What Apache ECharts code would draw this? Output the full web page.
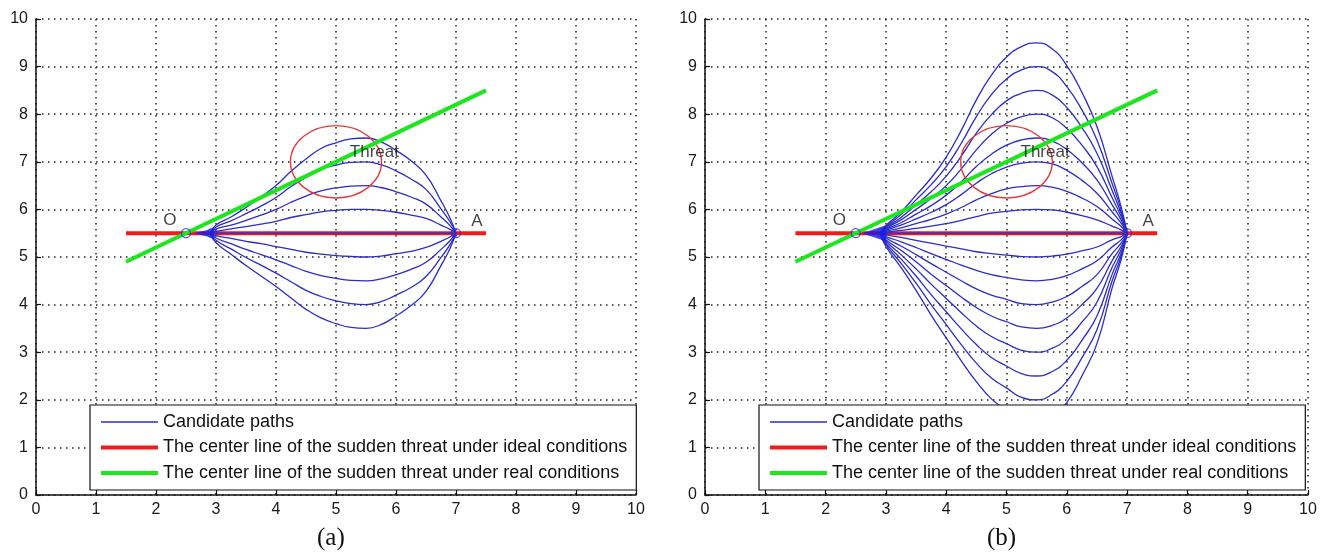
<!DOCTYPE html>
<html>
<head>
<meta charset="utf-8">
<title>Candidate paths</title>
<script src="https://cdn.jsdelivr.net/npm/echarts@6/dist/echarts.min.js"></script>
<style>
html, body { margin: 0; padding: 0; background: #fff; }
#main { width: 1327px; height: 557px; }
</style>
</head>
<body>
<div id="main"></div>
<script>
// tick labels for both axes of both panels
var tickLabels = ['0', '1', '2', '3', '4', '5', '6', '7', '8', '9', '10'];

// x positions shared by every candidate path
var pathX = [2.9, 3.0, 3.25, 3.5, 3.75, 4.0, 4.25, 4.5, 4.75, 5.0, 5.25, 5.5, 5.75, 6.0, 6.25, 6.5, 6.75, 6.9, 7.0];

// panel (a): 9 candidate paths, y read at pathX
var pathsA = [
    [5.5, 5.67, 5.84, 6.04, 6.26, 6.50, 6.80, 7.06, 7.28, 7.40, 7.48, 7.50, 7.42, 7.24, 7.02, 6.72, 6.18, 5.82, 5.5],
    [5.5, 5.63, 5.76, 5.91, 6.07, 6.25, 6.48, 6.67, 6.84, 6.93, 6.99, 7.00, 6.94, 6.81, 6.64, 6.42, 6.01, 5.74, 5.5],
    [5.5, 5.59, 5.67, 5.77, 5.88, 6.00, 6.15, 6.28, 6.39, 6.45, 6.49, 6.50, 6.46, 6.37, 6.26, 6.11, 5.84, 5.66, 5.5],
    [5.5, 5.54, 5.59, 5.64, 5.69, 5.75, 5.83, 5.89, 5.95, 5.98, 6.00, 6.00, 5.98, 5.94, 5.88, 5.81, 5.67, 5.58, 5.5],
    [5.5, 5.50, 5.50, 5.50, 5.50, 5.50, 5.50, 5.50, 5.50, 5.50, 5.50, 5.50, 5.50, 5.50, 5.50, 5.50, 5.50, 5.50, 5.5],
    [5.5, 5.45, 5.39, 5.33, 5.28, 5.22, 5.16, 5.10, 5.06, 5.03, 5.01, 5.00, 5.02, 5.07, 5.12, 5.20, 5.33, 5.42, 5.5],
    [5.5, 5.40, 5.28, 5.16, 5.05, 4.94, 4.82, 4.70, 4.61, 4.55, 4.51, 4.50, 4.54, 4.63, 4.74, 4.89, 5.16, 5.34, 5.5],
    [5.5, 5.35, 5.17, 4.99, 4.83, 4.66, 4.48, 4.30, 4.17, 4.08, 4.02, 4.00, 4.06, 4.20, 4.36, 4.59, 4.99, 5.26, 5.5],
    [5.5, 5.30, 5.06, 4.82, 4.60, 4.38, 4.14, 3.90, 3.72, 3.60, 3.52, 3.50, 3.58, 3.76, 3.98, 4.28, 4.82, 5.18, 5.5]
];

// panel (b): 17 candidate paths
var pathsB = [
    [5.5, 5.66, 5.94, 6.30, 6.66, 7.10, 7.66, 8.30, 8.82, 9.20, 9.42, 9.50, 9.38, 9.02, 8.46, 7.74, 6.70, 6.06, 5.5],
    [5.5, 5.64, 5.89, 6.20, 6.52, 6.90, 7.39, 7.95, 8.41, 8.74, 8.93, 9.00, 8.90, 8.58, 8.09, 7.46, 6.55, 5.99, 5.5],
    [5.5, 5.62, 5.83, 6.10, 6.37, 6.70, 7.12, 7.60, 7.99, 8.28, 8.44, 8.50, 8.41, 8.14, 7.72, 7.18, 6.40, 5.92, 5.5],
    [5.5, 5.60, 5.78, 6.00, 6.23, 6.50, 6.85, 7.25, 7.58, 7.81, 7.95, 8.00, 7.93, 7.70, 7.35, 6.90, 6.25, 5.85, 5.5],
    [5.5, 5.58, 5.72, 5.90, 6.08, 6.30, 6.58, 6.90, 7.16, 7.35, 7.46, 7.50, 7.44, 7.26, 6.98, 6.62, 6.10, 5.78, 5.5],
    [5.5, 5.56, 5.67, 5.80, 5.94, 6.10, 6.31, 6.55, 6.75, 6.89, 6.97, 7.00, 6.96, 6.82, 6.61, 6.34, 5.95, 5.71, 5.5],
    [5.5, 5.54, 5.61, 5.70, 5.79, 5.90, 6.04, 6.20, 6.33, 6.43, 6.48, 6.50, 6.47, 6.38, 6.24, 6.06, 5.80, 5.64, 5.5],
    [5.5, 5.52, 5.56, 5.60, 5.65, 5.70, 5.77, 5.85, 5.92, 5.96, 5.99, 6.00, 5.99, 5.94, 5.87, 5.78, 5.65, 5.57, 5.5],
    [5.5, 5.50, 5.50, 5.50, 5.50, 5.50, 5.50, 5.50, 5.50, 5.50, 5.50, 5.50, 5.50, 5.50, 5.50, 5.50, 5.50, 5.50, 5.5],
    [5.5, 5.47, 5.41, 5.35, 5.29, 5.23, 5.17, 5.11, 5.07, 5.04, 5.01, 5.00, 5.02, 5.06, 5.13, 5.21, 5.36, 5.43, 5.5],
    [5.5, 5.43, 5.32, 5.20, 5.07, 4.95, 4.83, 4.72, 4.63, 4.57, 4.52, 4.50, 4.53, 4.61, 4.75, 4.92, 5.21, 5.36, 5.5],
    [5.5, 5.40, 5.23, 5.05, 4.86, 4.68, 4.50, 4.33, 4.20, 4.11, 4.02, 4.00, 4.05, 4.17, 4.38, 4.63, 5.07, 5.29, 5.5],
    [5.5, 5.36, 5.14, 4.90, 4.64, 4.40, 4.16, 3.94, 3.76, 3.64, 3.53, 3.50, 3.56, 3.72, 4.00, 4.34, 4.92, 5.22, 5.5],
    [5.5, 5.33, 5.05, 4.75, 4.43, 4.13, 3.83, 3.55, 3.33, 3.18, 3.04, 3.00, 3.08, 3.28, 3.63, 4.05, 4.78, 5.15, 5.5],
    [5.5, 5.29, 4.96, 4.60, 4.21, 3.85, 3.49, 3.16, 2.89, 2.71, 2.55, 2.50, 2.59, 2.83, 3.25, 3.76, 4.63, 5.08, 5.5],
    [5.5, 5.26, 4.87, 4.45, 4.00, 3.58, 3.16, 2.77, 2.46, 2.25, 2.05, 2.00, 2.11, 2.39, 2.88, 3.47, 4.49, 5.01, 5.5],
    [5.5, 5.22, 4.78, 4.30, 3.78, 3.30, 2.82, 2.38, 2.02, 1.78, 1.56, 1.50, 1.62, 1.94, 2.50, 3.18, 4.34, 4.94, 5.5]
];

var idealLine = [[1.5, 5.5], [7.5, 5.5]];
var realLine = [[1.5, 4.9], [7.5, 8.5]];
var threatCircle = [[5.0, 7.0, 0.76]];        // centre x, centre y, radius
var openPoints = [[2.5, 5.5], [2.93, 5.5], [7.0, 5.5]];
var startBlob = [[2.8, 5.5]];
var textMarks = [
    { name: 'O', value: [2.23, 5.78] },
    { name: 'A', value: [7.35, 5.74] },
    { name: 'Threat', value: [5.64, 7.2] }
];

var nameCandidate = 'Candidate paths';
var nameIdeal = 'The center line of the sudden threat under ideal conditions';
var nameReal = 'The center line of the sudden threat under real conditions';

var font = 'Liberation Sans, Arial, sans-serif';

function makeXAxis(idx) {
    return {
        gridIndex: idx, type: 'value', min: 0, max: 10, interval: 1,
        axisLine: { onZero: false, lineStyle: { color: '#111', width: 1.5 } },
        axisTick: { inside: true, length: 5, lineStyle: { color: '#111', width: 1.2 } },
        axisLabel: {
            margin: 7, fontSize: 16, color: '#1a1a1a', fontFamily: font,
            formatter: function (v) { return tickLabels[Math.round(v)]; }
        },
        splitLine: { show: true, lineStyle: { type: [1.5, 4.5], color: '#222', width: 1.5 } }
    };
}

function makeYAxis(idx) {
    var ax = makeXAxis(idx);
    ax.axisLabel.margin = 8;
    return ax;
}

function panelSeries(idx, paths, blob) {
    var s = [];
    s.push({
        name: nameIdeal, type: 'line', xAxisIndex: idx, yAxisIndex: idx,
        data: idealLine, symbol: 'none', z: 2,
        lineStyle: { color: '#f01c1c', width: 4 }, itemStyle: { color: '#f01c1c' }
    });
    paths.forEach(function (ys) {
        s.push({
            name: nameCandidate, type: 'line', xAxisIndex: idx, yAxisIndex: idx,
            data: pathX.map(function (x, i) { return [x, ys[i]]; }),
            symbol: 'none', smooth: 0.5, z: 3,
            lineStyle: { color: '#2c2cc8', width: 1.3 }, itemStyle: { color: '#2c2cc8' }
        });
    });
    s.push({
        name: nameReal, type: 'line', xAxisIndex: idx, yAxisIndex: idx,
        data: realLine, symbol: 'none', z: 4,
        lineStyle: { color: '#1ee61e', width: 4 }, itemStyle: { color: '#1ee61e' }
    });
    s.push({
        type: 'custom', xAxisIndex: idx, yAxisIndex: idx, data: threatCircle, z: 4,
        renderItem: function (params, api) {
            var c = api.coord([api.value(0), api.value(1)]);
            var r = api.size([api.value(2), api.value(2)]);
            return {
                type: 'ellipse',
                shape: { cx: c[0], cy: c[1], rx: r[0], ry: r[1] },
                style: { fill: 'none', stroke: '#e23a3a', lineWidth: 1.3 }
            };
        }
    });
    s.push({
        type: 'scatter', xAxisIndex: idx, yAxisIndex: idx, data: startBlob, z: 5,
        symbol: 'triangle', symbolRotate: 90, symbolSize: blob,
        itemStyle: { color: '#1a1ae6' }
    });
    s.push({
        type: 'scatter', xAxisIndex: idx, yAxisIndex: idx, data: openPoints, z: 5,
        symbol: 'circle', symbolSize: 9,
        itemStyle: { color: 'transparent', borderColor: '#2a2ae0', borderWidth: 1.3 }
    });
    s.push({
        type: 'scatter', xAxisIndex: idx, yAxisIndex: idx, data: textMarks, z: 6,
        symbolSize: 1, itemStyle: { color: 'transparent' },
        label: {
            show: true, position: 'inside', formatter: '{b}',
            fontSize: 17, color: '#111', fontFamily: font
        }
    });
    return s;
}

function makeLegend(left) {
    return {
        data: [
            { name: nameCandidate, lineStyle: { width: 1.5 } },
            { name: nameIdeal, lineStyle: { width: 4 } },
            { name: nameReal, lineStyle: { width: 4 } }
        ],
        orient: 'vertical', left: left, top: 405,
        padding: [8, 9, 8, 9], itemGap: 7.5, itemWidth: 57, itemHeight: 10,
        backgroundColor: '#fff', borderColor: '#111', borderWidth: 1.2, borderRadius: 0,
        selectedMode: false,
        itemStyle: { opacity: 0 },
        textStyle: { fontSize: 18, color: '#111', fontFamily: font }
    };
}

var myChart = echarts.init(document.getElementById('main'));
myChart.setOption({
    animation: false,
    backgroundColor: '#fff',
    grid: [
        { left: 36, right: 691, top: 19, bottom: 62 },
        { left: 705, right: 19, top: 19, bottom: 62 }
    ],
    xAxis: [makeXAxis(0), makeXAxis(1)],
    yAxis: [makeYAxis(0), makeYAxis(1)],
    legend: [makeLegend(90), makeLegend(759)],
    graphic: [
        { type: 'text', left: 317, top: 526, style: { text: '(a)', font: '25px Liberation Serif, Times New Roman, serif', fill: '#111' } },
        { type: 'text', left: 987, top: 526, style: { text: '(b)', font: '25px Liberation Serif, Times New Roman, serif', fill: '#111' } }
    ],
    series: panelSeries(0, pathsA, [10, 20]).concat(panelSeries(1, pathsB, [16, 24]))
});
</script>
</body>
</html>
